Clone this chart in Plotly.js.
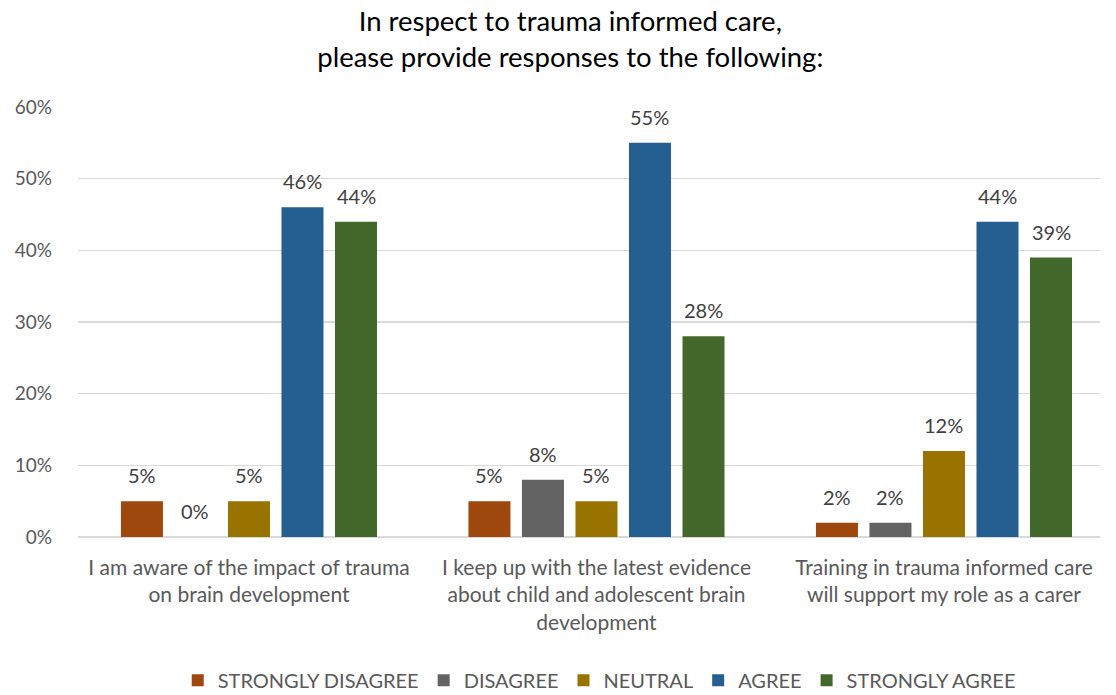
<!DOCTYPE html>
<html><head><meta charset="utf-8">
<script src="https://cdn.plot.ly/plotly-3.0.1.min.js"></script>
<style>html,body{margin:0;padding:0;background:#fff}#chart{width:1116px;height:695px}</style>
</head><body><div id="chart"></div>
<script>
const categories = [
  "I am aware of the impact of trauma<br>on brain development",
  "I keep up with the latest evidence<br>about child and adolescent brain<br>development",
  "Training in trauma informed care<br>will support my role as a carer"
];
const seriesNames = ["STRONGLY DISAGREE", "DISAGREE", "NEUTRAL", "AGREE", "STRONGLY AGREE"];
const stronglyDisagree = [5, 5, 2];
const disagree = [0, 8, 2];
const neutral = [5, 5, 12];
const agree = [46, 55, 44];
const stronglyAgree = [44, 28, 39];
const colors = ["#9E480E", "#636363", "#997300", "#255E91", "#43682B"];
const yTicks = [0, 10, 20, 30, 40, 50, 60];

const FONT = "Lato, 'Open Sans', sans-serif";
const BARGAP = 0.23;
const allSeries = [stronglyDisagree, disagree, neutral, agree, stronglyAgree];
const traces = allSeries.map((vals, i) => ({
  type: "bar",
  name: seriesNames[i],
  x: categories,
  y: vals,
  marker: {color: colors[i]},
  hoverinfo: "none"
}));

// data labels placed via the axes: slot offset inside each group derived from bargap
const nS = allSeries.length;
const slot = (1 - BARGAP) / nS;
const annotations = [];
allSeries.forEach((vals, i) => {
  vals.forEach((v, c) => {
    annotations.push({
      xref: "x", yref: "y",
      x: c + (i - (nS - 1) / 2) * slot,
      y: v,
      text: v + "%",
      showarrow: false,
      yanchor: "bottom", xanchor: "center",
      yshift: 12,
      font: {family: FONT, size: 20, color: "#404040"}
    });
  });
});

const layout = {
  width: 1116, height: 695,
  margin: {l: 78, r: 16, t: 107, b: 158, autoexpand: false},
  paper_bgcolor: "#fff", plot_bgcolor: "#fff",
  font: {family: FONT, color: "#595959"},
  title: {
    text: "In respect to trauma informed care,<br>please provide responses to the following:",
    font: {family: FONT, size: 27.5, color: "#000"},
    x: 0.511, xanchor: "center", y: 0.9555, yanchor: "middle"
  },
  barmode: "group",
  bargap: BARGAP,
  bargroupgap: 0.215,
  annotations: annotations,
  xaxis: {
    type: "category",
    range: [-0.492, 2.449],
    automargin: false,
    tickfont: {family: FONT, size: 21, color: "#595959"},
    showgrid: false, zeroline: false, showline: false, ticks: "",
    ticklabelstandoff: 16
  },
  yaxis: {
    range: [0, 60],
    automargin: false,
    tickvals: yTicks,
    ticktext: yTicks.map(v => v + "%"),
    tickfont: {family: FONT, size: 19, color: "#595959"},
    gridcolor: "#D9D9D9", gridwidth: 1.3,
    zeroline: true, zerolinecolor: "#D9D9D9", zerolinewidth: 1.5,
    showline: false, ticks: "", ticklabelstandoff: 25
  },
  showlegend: true,
  legend: {
    orientation: "h", x: 0.51, xanchor: "center", y: -0.333, yanchor: "middle",
    font: {family: FONT, size: 20, color: "#595959"},
    traceorder: "normal", itemwidth: 30
  }
};
Plotly.newPlot("chart", traces, layout, {displayModeBar: false, staticPlot: true});
</script></body></html>
